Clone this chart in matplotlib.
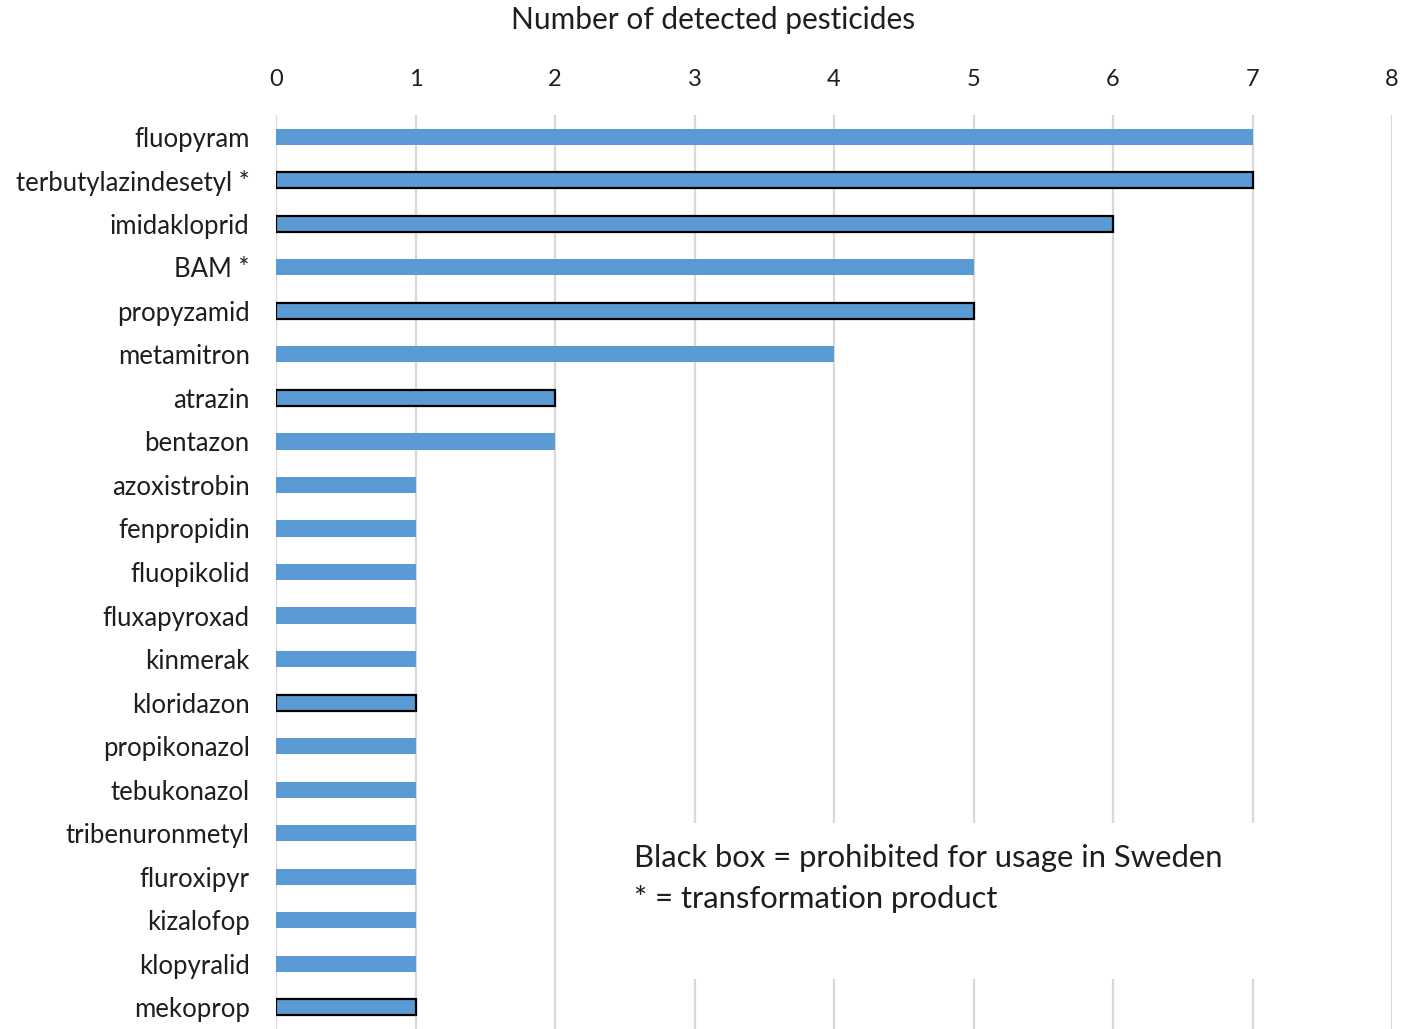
import matplotlib
matplotlib.use("Agg")
import matplotlib.pyplot as plt
from matplotlib.patches import Rectangle

plt.rcParams['font.family'] = ['Lato', 'DejaVu Sans']

substances = ["fluopyram", "terbutylazindesetyl *", "imidakloprid", "BAM *", "propyzamid",
              "metamitron", "atrazin", "bentazon", "azoxistrobin", "fenpropidin",
              "fluopikolid", "fluxapyroxad", "kinmerak", "kloridazon", "propikonazol",
              "tebukonazol", "tribenuronmetyl", "fluroxipyr", "kizalofop", "klopyralid",
              "mekoprop"]
detections = [7, 7, 6, 5, 5, 4, 2, 2, 1, 1, 1, 1, 1, 1, 1, 1, 1, 1, 1, 1, 1]
# substances not allowed in Sweden get a black outline
prohibited = [False, True, True, False, True, False, True, False, False, False,
              False, False, False, True, False, False, False, False, False, False,
              True]
xticks = [0, 1, 2, 3, 4, 5, 6, 7, 8]

fig = plt.figure(figsize=(14.02, 10.29), dpi=100)
ax = fig.add_axes([0.1969, 0.0, 0.7960, 0.8882])

ypos = list(range(len(substances)))
for y, v, p in zip(ypos, detections, prohibited):
    ax.barh(y, v, height=0.37, color="#5B9BD5",
            edgecolor="black" if p else "none", linewidth=1.6 if p else 0,
            zorder=3)

ax.set_xlim(0, 8)
ax.set_ylim(len(substances) - 0.5, -0.5)
ax.set_xticks(xticks)
ax.set_yticks(ypos)
ax.set_yticklabels(substances)
ax.xaxis.tick_top()
ax.tick_params(axis="both", length=0, colors="#1e1e1e")
ax.tick_params(axis="x", pad=18, labelsize=17)
ax.tick_params(axis="y", pad=19, labelsize=18.5)
ax.grid(axis="x", color="#D9D9D9", linewidth=1.6, zorder=0)
ax.set_axisbelow(True)
for s in ax.spines.values():
    s.set_visible(False)

fig.text(713 / 1402, 1 - 20 / 1029, "Number of detected pesticides",
         ha="center", va="center", fontsize=21.5, color="#1e1e1e")

# note box sits over the gridlines
note_bg = Rectangle((600 / 1402, 1 - 979 / 1029), 770 / 1402, 156 / 1029,
                    transform=fig.transFigure, facecolor="white",
                    edgecolor="none", zorder=4)
ax.add_artist(note_bg)
ax.text(634 / 1402, 1 - 858 / 1029, "Black box = prohibited for usage in Sweden",
        transform=fig.transFigure, ha="left", va="center", fontsize=22.3,
        color="#1e1e1e", zorder=5)
ax.text(634 / 1402, 1 - 899 / 1029, "* = transformation product",
        transform=fig.transFigure, ha="left", va="center", fontsize=22.3,
        color="#1e1e1e", zorder=5)

fig.savefig("out.png", dpi=100)
